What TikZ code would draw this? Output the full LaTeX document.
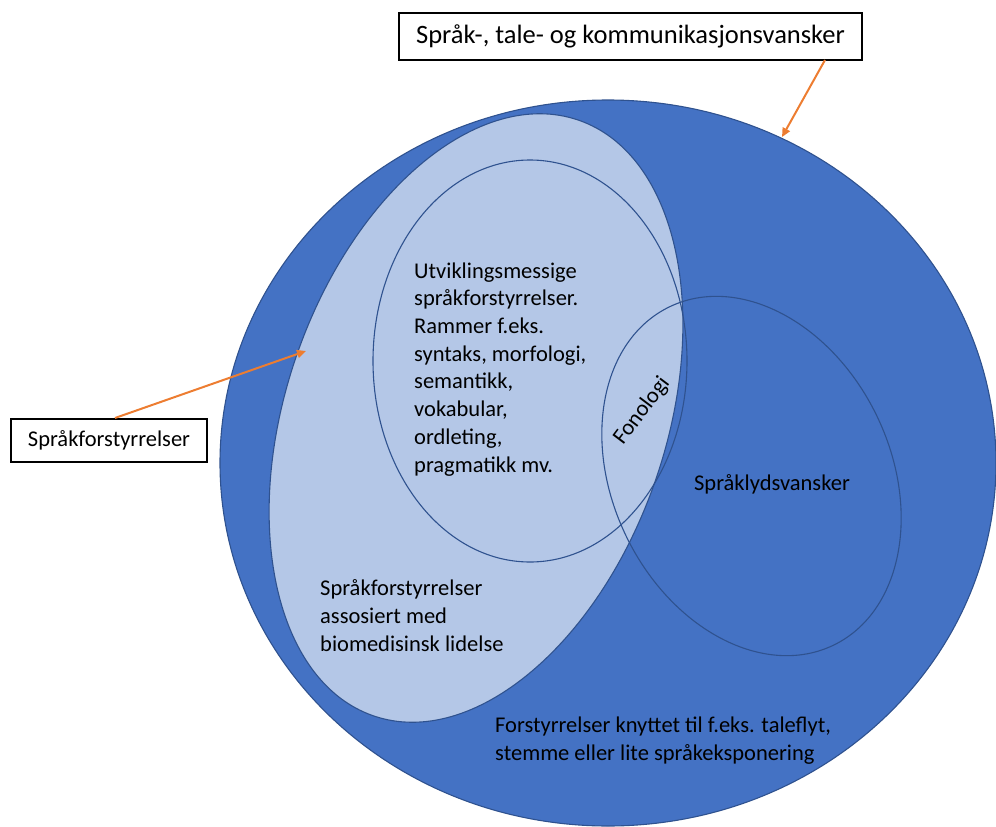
\documentclass[tikz,border=0pt]{standalone}
\usepackage{fontspec}
\setmainfont{Carlito}
\usetikzlibrary{arrows.meta}
\definecolor{darkblue}{HTML}{4472C4}
\definecolor{lightblue}{HTML}{B4C7E7}
\definecolor{edgeblue}{HTML}{2F528F}
\definecolor{arroworange}{HTML}{ED7D31}
\tikzset{
  setshape/.style={draw=edgeblue, line width=1.1pt},
  labelbox/.style={draw=black, line width=1.3pt, fill=white, inner sep=0pt},
  bodytext/.style={align=left, inner sep=0pt, font=\fontsize{22.5}{27.7}\selectfont},
  callout/.style={draw=arroworange, line width=2pt, -{Triangle[length=9pt,width=8pt]}}
}
\begin{document}
\begin{tikzpicture}[x=1pt,y=-1pt]
\useasboundingbox (0,0) rectangle (996,827);
% outer set
\path[setshape, fill=darkblue] (608,463) ellipse (388 and 363);
% light set
\path[setshape, fill=lightblue, shift={(476,418)}, rotate=71] (0,0) ellipse (315 and 190);
% inner sets
\path[setshape] (530,361) ellipse (157 and 201);
\path[setshape, shift={(751.5,476)}, rotate=26] (0,0) ellipse (139 and 188);

% texts (base anchor = baseline of last line)
\node[bodytext, anchor=base west] (utv) at (414,472) {Utviklingsmessige\\språkforstyrrelser.\\Rammer f.eks.\\syntaks, morfologi,\\semantikk,\\vokabular,\\ordleting,\\pragmatikk mv.};
\node[bodytext, rotate=53] (fon) at (642,411) {Fonologi};
\node[bodytext] (lyd) at (772,484) {Språklydsvansker};
\node[bodytext, anchor=base west] (bio) at (320,651) {Språkforstyrrelser\\assosiert med\\biomedisinsk lidelse};
\node[bodytext, anchor=base west] (fors) at (495,760) {Forstyrrelser knyttet til f.eks. taleflyt,\\stemme eller lite språkeksponering};

% label boxes
\node[labelbox, minimum width=463pt, minimum height=47pt, font=\fontsize{26.5}{30}\selectfont] (title) at (630.5,36.5) {Språk-, tale- og kommunikasjonsvansker};
\node[labelbox, minimum width=196pt, minimum height=43pt, font=\fontsize{22.5}{27}\selectfont] (spr) at (109,440.5) {Språkforstyrrelser};

% callouts
\coordinate (t1) at (825,60);
\coordinate (e1) at (782,137);
\coordinate (t2) at (115,418);
\coordinate (e2) at (306,351);
\draw[callout] (t1) -- (e1);
\draw[callout] (t2) -- (e2);
\end{tikzpicture}
\end{document}
